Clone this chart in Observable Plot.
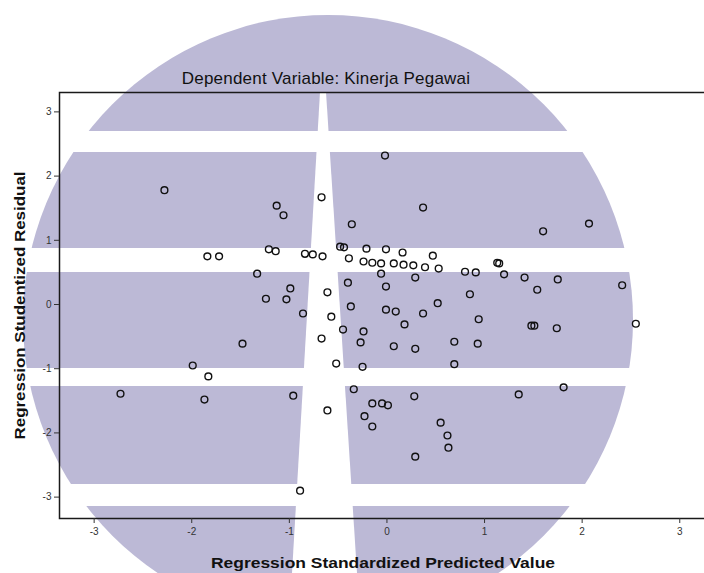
<!DOCTYPE html>
<html>
<head>
<meta charset="utf-8">
<script src="https://cdn.jsdelivr.net/npm/d3@7"></script>
<script src="https://cdn.jsdelivr.net/npm/@observablehq/plot@0.6"></script>
<style>
  html, body { margin: 0; padding: 0; background: #fff; }
  #wrap { position: relative; width: 704px; height: 573px; overflow: hidden; font-family: "Liberation Sans", Arial, sans-serif; }
  #wm { position: absolute; left: 0; top: 0; z-index: 0; }
  #title { position: relative; z-index: 1; width: 652px; height: 86px; box-sizing: border-box; padding-top: 70px; text-align: center; font-size: 17px; line-height: 17px; letter-spacing: 0.2px; color: #111; }
  #chart { position: relative; z-index: 1; }
</style>
</head>
<body>
<div id="wrap">
  <svg id="wm" width="704" height="573" xmlns="http://www.w3.org/2000/svg">
    <circle cx="328" cy="320" r="305" fill="#bcb9d6"></circle>
    <rect x="0" y="131" width="704" height="21" fill="#fff"></rect>
    <rect x="0" y="248" width="704" height="24" fill="#fff"></rect>
    <rect x="0" y="368" width="704" height="18" fill="#fff"></rect>
    <rect x="0" y="484" width="704" height="22" fill="#fff"></rect>
    <polygon points="320,92 326,92 357,573 292,573" fill="#fff"></polygon>
  </svg>
  <div id="title">Dependent Variable: Kinerja Pegawai</div>
  <div id="chart"></div>
</div>
<script>
// Regression Standardized Predicted Value (x) and Regression Studentized Residual (y)
const predicted = [
  -2.28, -0.02, -1.13, -1.06, -0.67, 0.37, -0.36, 1.60, 2.07, -1.84,
  -1.72, -1.21, -1.14, -0.84, -0.76, -0.66, -0.48, -0.44, -0.39, -0.21,
  -0.01, 0.16, 0.47, -0.24, -0.15, -0.06, 0.07, 0.17, 0.27, 0.39,
  0.53, 0.80, 0.91, 1.13, 1.15, 1.20, 1.41, 1.75, -1.33, -0.06,
  0.29, -0.01, -0.40, -0.99, -0.61, 1.54, 2.41, -1.24, -1.03, 0.85,
  0.52, -0.37, -0.01, 0.09, -0.86, -0.57, 0.37, 0.18, 0.94, 1.48,
  1.51, 1.74, 2.55, -0.45, -0.24, -0.27, -0.67, -1.48, 0.07, 0.29,
  0.69, 0.93, -0.52, -0.25, -1.99, -1.83, 0.69, -0.34, -2.73, -1.87,
  -0.96, -0.61, -0.15, -0.05, 0.01, -0.23, -0.15, -0.89, 0.28, 1.35,
  1.81, 0.55, 0.62, 0.63, 0.29
];
const residual = [
  1.78, 2.32, 1.54, 1.39, 1.67, 1.51, 1.25, 1.14, 1.26, 0.75,
  0.75, 0.86, 0.83, 0.79, 0.78, 0.75, 0.90, 0.89, 0.72, 0.87,
  0.86, 0.81, 0.76, 0.67, 0.65, 0.64, 0.64, 0.62, 0.61, 0.58,
  0.56, 0.51, 0.50, 0.65, 0.64, 0.47, 0.42, 0.39, 0.48, 0.48,
  0.42, 0.28, 0.34, 0.25, 0.19, 0.23, 0.30, 0.09, 0.08, 0.16,
  0.02, -0.03, -0.08, -0.11, -0.14, -0.19, -0.14, -0.31, -0.23, -0.33,
  -0.33, -0.37, -0.30, -0.39, -0.42, -0.59, -0.53, -0.61, -0.65, -0.69,
  -0.58, -0.61, -0.92, -0.97, -0.95, -1.12, -0.93, -1.32, -1.39, -1.48,
  -1.42, -1.65, -1.54, -1.54, -1.57, -1.74, -1.90, -2.90, -1.43, -1.40,
  -1.29, -1.84, -2.04, -2.23, -2.37
];
const xTicks = [-3, -2, -1, 0, 1, 2, 3];
const yTicks = [-3, -2, -1, 0, 1, 2, 3];
const xLabel = "Regression Standardized Predicted Value";
const yLabel = "Regression Studentized Residual";

const points = predicted.map((x, i) => ({x, y: residual[i]}));

const chart = Plot.plot({
  width: 704,
  height: 487,
  marginTop: 6,
  marginLeft: 59,
  marginRight: -2,
  marginBottom: 55,
  style: {background: "transparent", fontFamily: "Liberation Sans, Arial, sans-serif", color: "#222"},
  x: {domain: [-3.355, 3.274], axis: null},
  y: {domain: [-3.333, 3.302], axis: null},
  marks: [
    Plot.frame({stroke: "#1a1a1a", strokeWidth: 1.5}),
    Plot.axisX(xTicks, {anchor: "bottom", tickSize: 5, tickPadding: 4, fontSize: 10, tickFormat: d => String(d), label: null, stroke: "#333", fill: "#333"}),
    Plot.axisY(yTicks, {anchor: "left", tickSize: 5, tickPadding: 3, fontSize: 10, tickFormat: d => String(d), label: null, stroke: "#333", fill: "#333"}),
    Plot.dot(points, {x: "x", y: "y", r: 3.4, stroke: "#111", strokeWidth: 1.4, fill: "none"}),
    Plot.text([xLabel], {frameAnchor: "bottom", dy: 45, fontSize: 15, fontWeight: "bold", fill: "#111", lineAnchor: "middle", textAnchor: "middle"}),
    Plot.text([yLabel], {frameAnchor: "left", dx: -39, rotate: -90, fontSize: 15, fontWeight: "bold", fill: "#111", lineAnchor: "middle", textAnchor: "middle"})
  ]
});
// stretch the axis titles to the reference's widths
d3.select(chart).selectAll("text").each(function() {
  const t = this.textContent;
  if (t === xLabel) { this.setAttribute("textLength", 344); this.setAttribute("lengthAdjust", "spacingAndGlyphs"); }
  if (t === yLabel) { this.setAttribute("textLength", 268); this.setAttribute("lengthAdjust", "spacingAndGlyphs"); }
});
document.getElementById("chart").appendChild(chart);
</script>
</body>
</html>
